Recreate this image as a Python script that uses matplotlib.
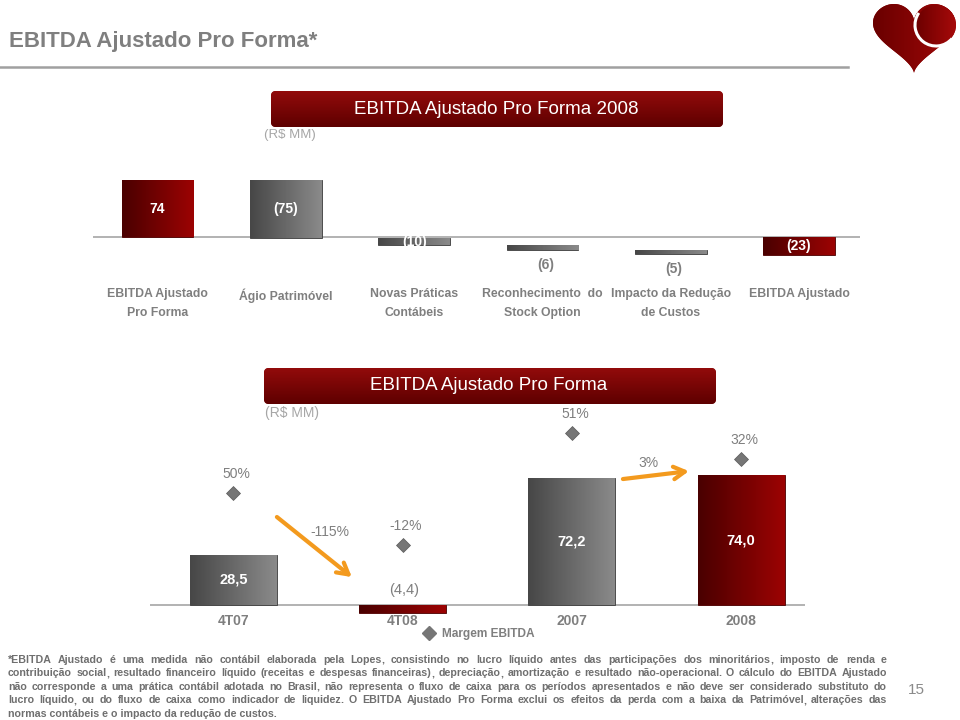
import matplotlib
matplotlib.use("Agg")
import matplotlib.pyplot as plt
import numpy as np
from matplotlib.colors import LinearSegmentedColormap
from matplotlib.lines import Line2D
from matplotlib.patches import Arc, Circle, FancyBboxPatch, Polygon

plt.rcParams.update({"font.family": "Liberation Sans", "font.size": 10})

# --- data -----------------------------------------------------------------
bridge_labels = [
    "EBITDA Ajustado\nPro Forma",
    "Ágio Patrimóvel",
    "Novas Práticas\nContábeis",
    "Reconhecimento  do\nStock Option",
    "Impacto da Redução\nde Custos",
    "EBITDA Ajustado",
]
bridge_values = [74, -75, -10, -6, -5, -23]
bridge_text = ["74", "(75)", "(10)", "(6)", "(5)", "(23)"]
bridge_kind = ["total", "step", "step", "step", "step", "total"]

periods = ["4T07", "4T08", "2007", "2008"]
ebitda = [28.5, -4.4, 72.2, 74.0]
margin = [50, -12, 51, 32]
growth = ["-115%", "3%"]

note_lines = [
    "*EBITDA Ajustado é uma medida não contábil elaborada pela Lopes, consistindo no lucro líquido antes das participações dos minoritários, imposto de renda e",
    "contribuição social, resultado financeiro líquido (receitas e despesas financeiras), depreciação, amortização e resultado não-operacional. O cálculo do EBITDA Ajustado",
    "não corresponde a uma prática contábil adotada no Brasil, não representa o fluxo de caixa para os períodos apresentados e não deve ser considerado substituto do",
    "lucro líquido, ou do fluxo de caixa como indicador de liquidez. O EBITDA Ajustado Pro Forma exclui os efeitos da perda com a baixa da Patrimóvel, alterações das",
    "normas contábeis e o impacto da redução de custos.",
]

RED = ("#4a0000", "#9c0303")
GRAY = ("#474747", "#8a8a8a")
TXT = "#7f7f7f"
ORANGE = "#f39a1e"
DIAMOND = "#767676"


def shade(ax, patch, ext, c0, c1, vertical=False):
    cmap = LinearSegmentedColormap.from_list("g", [c0, c1])
    grad = np.linspace(0, 1, 64).reshape(1, -1)
    if vertical:
        grad = grad.T
    im = ax.imshow(grad, cmap=cmap, extent=ext, aspect="auto", origin="lower",
                   interpolation="bicubic", zorder=patch.get_zorder() + 0.1)
    im.set_clip_path(patch)


def bar_ext(bar):
    bb = bar.get_bbox()
    return (bb.x0, bb.x1, bb.y0, bb.y1)


fig = plt.figure(figsize=(9.6, 7.2), dpi=100)

# overlay in pixel coordinates for slide decoration
ov = fig.add_axes([0, 0, 1, 1])
ov.axis("off")

ov.text(9, 42, "EBITDA Ajustado Pro Forma*", fontsize=16, color=TXT,
        fontweight="bold", va="center", ha="left")
ov.plot([0, 848], [66.5, 66.5], color="#a0a0a0", lw=1.8)

# heart logo
t = np.linspace(0, 2 * np.pi, 400)
hx = 16 * np.sin(t) ** 3
hy = 13 * np.cos(t) - 5 * np.cos(2 * t) - 2 * np.cos(3 * t) - np.cos(4 * t)
px = 873 + (hx - hx.min()) / (hx.max() - hx.min()) * 82
py = 4 + (hy.max() - hy) / (hy.max() - hy.min()) * 69
heart = Polygon(np.column_stack([px, py]), closed=True, facecolor="#8b0000",
                edgecolor="none", zorder=2)
ov.add_patch(heart)
shade(ov, heart, (px.min(), px.max(), py.min(), py.max()), "#6a0000", "#a00808")
lobe = Circle((936, 25), 20, facecolor="#8e0404", edgecolor="none", zorder=3)
ov.add_patch(lobe)
shade(ov, lobe, (916, 956, 5, 45), "#6d0000", "#a60a0a")
ov.add_patch(Arc((936, 25), 42, 42, theta1=40, theta2=215, color="white",
                 lw=2.2, zorder=4))


def banner(x0, y0, x1, y1, text, cx):
    box = FancyBboxPatch((x0, y0), x1 - x0, y1 - y0,
                         boxstyle="round,pad=0,rounding_size=5",
                         facecolor="#7a0000", edgecolor="none", zorder=2)
    ov.add_patch(box)
    cmap = LinearSegmentedColormap.from_list("b", ["#920b0b", "#5e0000"])
    im = ov.imshow(np.linspace(0, 1, 64).reshape(-1, 1), cmap=cmap,
                   extent=(x0, x1, y1, y0), aspect="auto", zorder=2.1)
    im.set_clip_path(box)
    ov.text(cx, (y0 + y1) / 2, text, color="white", fontsize=13.5,
            ha="center", va="center", zorder=3)


banner(271, 91, 723, 127, "EBITDA Ajustado Pro Forma 2008", 496)
ov.text(264, 135, "(R$ MM)", color="#a6a6a6", fontsize=9.5, va="center")
banner(264, 368, 716, 404, "EBITDA Ajustado Pro Forma", 489)
ov.text(265, 413, "(R$ MM)", color="#a6a6a6", fontsize=10, va="center")

# --- top chart: waterfall ------------------------------------------------
ax1 = fig.add_axes([93 / 960, 1 - 330 / 720, 767 / 960, 160 / 720])
ax1.patch.set_alpha(0)
run = 0
for i, (v, kind) in enumerate(zip(bridge_values, bridge_kind)):
    if kind == "total":
        bottom = 0
        run = v
    else:
        bottom = run
        run += v
    cols = RED if kind == "total" else GRAY
    bar = ax1.bar(i, v, bottom=bottom, width=0.56, color=cols[1],
                  edgecolor="#3a3a3a" if kind != "total" else "#4a0000",
                  lw=0.6, zorder=2)[0]
    shade(ax1, bar, bar_ext(bar), *cols)
    if abs(v) >= 8:
        ax1.text(i, bottom + v / 2, bridge_text[i], color="white", fontsize=10,
                 fontweight="bold", ha="center", va="center", zorder=4)
    else:
        ax1.annotate(bridge_text[i], (i, bottom + v), xytext=(3, -15),
                     textcoords="offset pixels", color=TXT, fontsize=10,
                     fontweight="bold", ha="center", va="center")
    ax1.annotate(bridge_labels[i], (i, 0), xytext=(0, -51),
                 textcoords="offset pixels", color=TXT, fontsize=8.8,
                 fontweight="bold", ha="center", va="top", linespacing=1.75)
ax1.axhline(0, color="#a6a6a6", lw=1.2, zorder=1)
ax1.set_xlim(-0.503, 5.475)
ax1.set_ylim(-121.4, 87.5)
ax1.axis("off")

# --- bottom chart: EBITDA and margin -------------------------------------
ax2 = fig.add_axes([150 / 960, 1 - 640 / 720, 655 / 960, 220 / 720])
ax2.patch.set_alpha(0)
x = np.arange(len(periods))
for i, v in enumerate(ebitda):
    cols = GRAY if i % 2 == 0 else RED
    bar = ax2.bar(i, v, width=0.514, color=cols[1], edgecolor="#3a3a3a"
                  if i % 2 == 0 else "#4a0000", lw=0.6, zorder=2)[0]
    shade(ax2, bar, bar_ext(bar), *cols)
    lbl = f"{abs(v):.1f}".replace(".", ",")
    if v > 0:
        ax2.text(i, v / 2, lbl, color="white", fontsize=10.5, fontweight="bold",
                 ha="center", va="center", zorder=4)
    else:
        ax2.annotate(f"({lbl})", (i, 0), xytext=(1, 15), textcoords="offset pixels",
                     color=TXT, fontsize=10.5, ha="center", va="center")
    ax2.annotate(periods[i], (i, 0), xytext=(0, -16), textcoords="offset pixels",
                 color=TXT, fontsize=10, fontweight="bold", ha="center", va="center")
ax2.axhline(0, color="#a6a6a6", lw=1.2, zorder=1)

# growth arrows
arrow = dict(arrowstyle="->,head_length=0.8,head_width=0.45", color=ORANGE,
             lw=3, shrinkA=0, shrinkB=0)
ax2.annotate("", xy=(0.70, 15.9), xytext=(0.257, 50.1), arrowprops=arrow, zorder=5)
ax2.text(0.57, 41.5, growth[0], color=TXT, fontsize=10, ha="center", va="center")
ax2.annotate("", xy=(2.692, 76.2), xytext=(2.302, 71.7), arrowprops=arrow, zorder=5)
ax2.text(2.45, 80.8, growth[1], color=TXT, fontsize=10, ha="center", va="center")
ax2.set_xlim(-0.493, 3.378)
ax2.set_ylim(-19.9, 105.3)
ax2.axis("off")

# margins: quarter pair and year pair drawn on their own secondary scales
for sl, lims in ((slice(0, 2), (-125.3, 137.0)), (slice(2, 4), (-100.3, 60.5))):
    tw = ax2.twinx()
    tw.plot(x[sl], margin[sl], ls="none", marker="D", ms=7.5, color=DIAMOND,
            mec="#5a5a5a", mew=0.5, zorder=3)
    for xi, m in zip(x[sl], margin[sl]):
        tw.annotate(f"{m}%", (xi, m), xytext=(3, 19), textcoords="offset pixels",
                    color=TXT, fontsize=10, ha="center", va="center")
    tw.set_ylim(*lims)
    tw.axis("off")

fig.legend(handles=[Line2D([], [], ls="none", marker="D", ms=7.5, color=DIAMOND)],
           labels=["Margem EBITDA"], loc="center left",
           bbox_to_anchor=(423 / 960, 1 - 634 / 720), frameon=False,
           handletextpad=0.6, handlelength=1.0, borderpad=0, borderaxespad=0,
           prop=dict(size=8.6, weight="bold"), labelcolor=TXT)

ov.set_xlim(0, 960)
ov.set_ylim(720, 0)

# footnote, justified word by word (trailing punctuation drawn on its own)
fig.canvas.draw()
r = fig.canvas.get_renderer()
left, right = 8, 887
kw = dict(fontsize=7.7, color="#6f6f6f", fontweight="bold", va="baseline")
tight = -0.6
for k, line in enumerate(note_lines):
    y = 663 + k * 13.4
    words = line.split()
    if k == len(note_lines) - 1:
        ov.text(left, y, line, **kw)
        continue
    pieces = []
    for w in words:
        if len(w) > 1 and w[-1] in ",.":
            parts = [w[:-1], w[-1]]
        else:
            parts = [w]
        texts = [ov.text(0, y, p, **kw) for p in parts]
        widths = [tt.get_window_extent(r).width for tt in texts]
        pieces.append((texts, widths))
    total = sum(sum(ws) + tight * (len(ws) - 1) for _, ws in pieces)
    gap = (right - left - total) / (len(pieces) - 1)
    xx = left
    for texts, widths in pieces:
        for tt, w in zip(texts, widths):
            tt.set_x(xx)
            xx += w + tight
        xx += gap - tight
ov.text(908, 690, "15", fontsize=11, color="#8a8a8a", ha="left", va="center")

fig.savefig("out.png", dpi=100)
